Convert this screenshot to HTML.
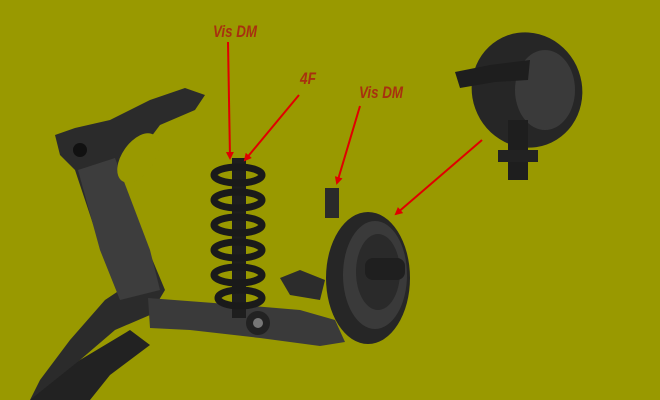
<!DOCTYPE html>
<html><head><style>
html,body{margin:0;padding:0;background:#999900;}
svg{display:block}
text{font-family:"Liberation Sans",sans-serif;font-weight:bold;font-style:italic;fill:#a8300f;font-size:17px}
</style></head><body>
<svg width="660" height="400" viewBox="0 0 660 400" xmlns="http://www.w3.org/2000/svg">
<defs>
<marker id="a" markerWidth="8" markerHeight="8" refX="6" refY="4" orient="auto" markerUnits="userSpaceOnUse"><path d="M0,0 L8,4 L0,8 z" fill="#e00000"/></marker>
</defs>
<rect width="660" height="400" fill="#999900"/>
<path d="M55,135 L75,128 L110,120 L150,100 L185,88 L205,95 L195,110 L160,125 L130,165 L120,175 L140,230 L165,290 L150,315 L115,330 L80,360 L45,395 L30,400 L40,380 L70,340 L105,300 L120,290 L95,230 L75,170 L60,155 Z" fill="#2b2b2b"/>
<path d="M78,170 L115,158 L150,250 L160,290 L120,300 L100,250 Z" fill="#3d3d3d"/>
<path d="M30,400 L80,360 L130,330 L150,345 L110,375 L90,400 Z" fill="#222"/>
<ellipse cx="138" cy="158" rx="16" ry="28" transform="rotate(35 138 158)" fill="#999900"/>
<circle cx="80" cy="150" r="7" fill="#111"/>
<path d="M148,298 L240,305 L300,310 L335,320 L345,342 L320,346 L260,338 L190,330 L150,328 Z" fill="#3a3a3a"/>
<circle cx="258" cy="323" r="12" fill="#222"/><circle cx="258" cy="323" r="5" fill="#777"/>
<rect x="232" y="158" width="14" height="160" fill="#1e1e1e"/>
<g fill="none" stroke="#1a1a1a" stroke-width="7">
<ellipse cx="238" cy="175" rx="24" ry="8"/>
<ellipse cx="238" cy="200" rx="24" ry="8"/>
<ellipse cx="238" cy="225" rx="24" ry="8"/>
<ellipse cx="238" cy="250" rx="24" ry="8"/>
<ellipse cx="238" cy="275" rx="24" ry="8"/>
<ellipse cx="240" cy="298" rx="22" ry="8"/>
</g>
<rect x="325" y="188" width="14" height="30" fill="#2a2a2a"/>
<path d="M280,278 L300,270 L325,280 L320,300 L290,295 Z" fill="#2c2c2c"/>
<ellipse cx="368" cy="278" rx="42" ry="66" fill="#262626"/>
<ellipse cx="375" cy="275" rx="32" ry="54" fill="#3a3a3a"/>
<ellipse cx="378" cy="272" rx="22" ry="38" fill="#2a2a2a"/>
<rect x="365" y="258" width="40" height="22" rx="8" fill="#1f1f1f"/>
<ellipse cx="527" cy="90" rx="55" ry="58" transform="rotate(-20 527 90)" fill="#262626"/>
<ellipse cx="545" cy="90" rx="30" ry="40" fill="#3a3a3a"/>
<path d="M455,72 L490,65 L530,60 L528,80 L495,82 L460,88 Z" fill="#1e1e1e"/>
<rect x="508" y="120" width="20" height="60" fill="#1e1e1e"/>
<rect x="498" y="150" width="40" height="12" fill="#222"/>
<text x="213" y="37" textLength="44" lengthAdjust="spacingAndGlyphs">Vis DM</text>
<text x="300" y="84" textLength="16" lengthAdjust="spacingAndGlyphs">4F</text>
<text x="359" y="98" textLength="44" lengthAdjust="spacingAndGlyphs">Vis DM</text>
<g stroke="#e00000" stroke-width="2" fill="none">
<line x1="228" y1="42" x2="230" y2="158" marker-end="url(#a)"/>
<line x1="299" y1="95" x2="245" y2="160" marker-end="url(#a)"/>
<line x1="360" y1="106" x2="337" y2="183" marker-end="url(#a)"/>
<line x1="482" y1="140" x2="396" y2="214" marker-end="url(#a)"/>
</g>
</svg>
</body></html>
